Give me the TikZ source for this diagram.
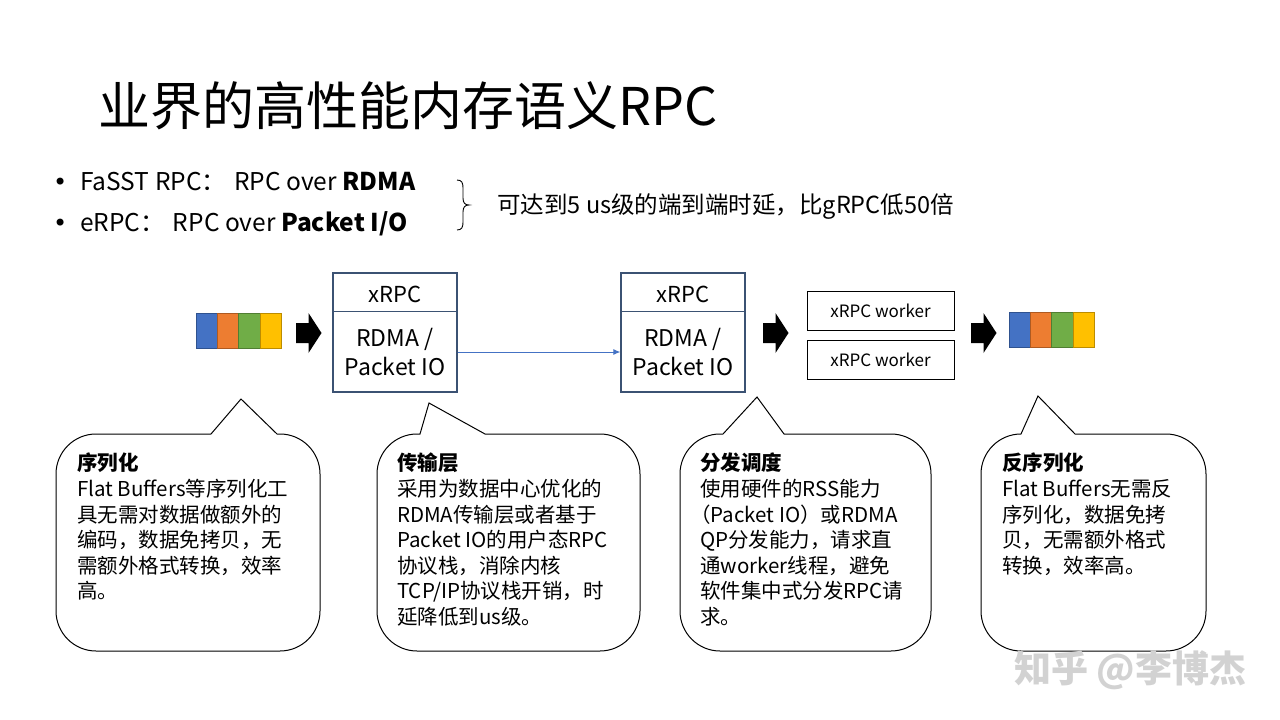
\documentclass[tikz,border=0pt]{standalone}
\usepackage{fontspec}
\setmainfont{Noto Sans CJK SC}
\newfontfamily\dejavu{DejaVu Sans}
\usetikzlibrary{arrows.meta}
\definecolor{boxblue}{HTML}{3B5273}
\definecolor{connblue}{HTML}{4472C4}
\definecolor{cb}{HTML}{4472C4}\definecolor{cbd}{HTML}{2F528F}
\definecolor{co}{HTML}{ED7D31}\definecolor{cod}{HTML}{AE5A21}
\definecolor{cg}{HTML}{70AD47}\definecolor{cgd}{HTML}{507E32}
\definecolor{cy}{HTML}{FFC000}\definecolor{cyd}{HTML}{BC8C00}
\newcommand\bubblepath[8]{%
  \draw[bubblestyle] (#1,{#2+40}) .. controls (#1,{#2+18}) and ({#1+18},#2) .. ({#1+40},#2)
    -- (#5,#2) -- (#6,#7) -- (#8,#2) -- ({#3-40},#2)
    .. controls ({#3-18},#2) and (#3,{#2+18}) .. (#3,{#2+40})
    -- (#3,{#4-40}) .. controls (#3,{#4-18}) and ({#3-18},#4) .. ({#3-40},#4)
    -- ({#1+40},#4) .. controls ({#1+18},#4) and (#1,{#4-18}) .. (#1,{#4-40}) -- cycle;}
\newcommand\datablock[3]{%
  \filldraw[fill=cb,draw=cbd] (#1,#2) rectangle ({#1+21.25},#3);
  \filldraw[fill=co,draw=cod] ({#1+21.25},#2) rectangle ({#1+42.5},#3);
  \filldraw[fill=cg,draw=cgd] ({#1+42.5},#2) rectangle ({#1+63.75},#3);
  \filldraw[fill=cy,draw=cyd] ({#1+63.75},#2) rectangle ({#1+85},#3);}
\newcommand\blockarrow[1]{%
  \fill[black] (#1,323) -- ({#1+12.5},323) -- ({#1+12.5},313) -- ({#1+25.5},333)
    -- ({#1+12.5},353) -- ({#1+12.5},343) -- (#1,343) -- cycle;}
\begin{document}
\begin{tikzpicture}[x=1pt,y=-1pt,
  rpcbox/.style={draw=boxblue, line width=1.2pt, minimum width=124pt, minimum height=119pt, inner sep=0pt},
  wbox/.style={draw=black, line width=1pt, minimum width=147pt, minimum height=39pt, inner sep=0pt, font=\fontsize{17}{20}\selectfont},
  lbl/.style={inner sep=0pt, font=\fontsize{22}{29}\selectfont},
  lblb/.style={inner sep=0pt, align=center, font=\fontsize{23}{29}\selectfont},
  btxt/.style={anchor=north west, align=left, inner sep=0pt, font=\fontsize{20.5}{25.6}\selectfont},
  bubblestyle/.style={draw=black, line width=1pt, fill=white},
  conn/.style={draw=connblue, line width=1pt, -{Latex[length=7pt,width=6pt]}},
  txt/.style={inner sep=0pt, anchor=base west},
  bul/.style={inner sep=0pt, anchor=base west, font=\fontsize{24.5}{30}\selectfont}
]
\useasboundingbox (0,0) rectangle (1280,720);
\fill[white] (0,0) rectangle (1280,720);

% title
\node[txt, font=\fontsize{52}{60}\selectfont] (title) at (98,125) {业界的高性能内存语义RPC};

% bullets
\node[bul, font=\fontsize{24}{30}\dejavu] (bu1) at (53,190) {•};
\node[bul] (t1) at (80,190) {FaSST RPC：\hspace{8pt}RPC over \textbf{RDMA}};
\node[bul, font=\fontsize{24}{30}\dejavu] (bu2) at (53,231) {•};
\node[bul] (t2) at (80,231) {eRPC：\hspace{8pt}RPC over \textbf{Packet I/O}};
\draw[line width=0.9pt] (457,180) .. controls (462,180) and (463,183) .. (463,188) -- (463,198)
  .. controls (463,203) and (465,205) .. (469,205)
  .. controls (465,205) and (463,207) .. (463,212) -- (463,222)
  .. controls (463,227) and (462,230) .. (457,230);
\node[txt, font=\fontsize{23.5}{28}\selectfont] (note) at (497,213) {可达到5 us级的端到端时延，比gRPC低50倍};

% pipeline
\datablock{196}{313}{348}
\blockarrow{296}
\node[rpcbox] (b1) at (395,332.5) {};
\draw[boxblue, line width=1.6pt] ([yshift=-39pt]b1.north west) -- ([yshift=-39pt]b1.north east);
\node[lbl] (b1h) at (395,294) {xRPC};
\node[lblb] (b1b) at (395,352.5) {RDMA /\\Packet IO};

\node[rpcbox] (b2) at (683,332.5) {};
\draw[boxblue, line width=1.6pt] ([yshift=-39pt]b2.north west) -- ([yshift=-39pt]b2.north east);
\node[lbl] (b2h) at (683,294) {xRPC};
\node[lblb] (b2b) at (683,352.5) {RDMA /\\Packet IO};

\draw[conn] ([yshift=-19.5pt]b1.east) -- ([yshift=-19.5pt]b2.west);

\blockarrow{763}
\node[wbox] (w1) at (880.5,310.5) {xRPC worker};
\node[wbox] (w2) at (880.5,359.5) {xRPC worker};
\blockarrow{971}
\datablock{1009}{312}{347}

% callouts
\bubblepath{56}{434}{320}{651}{211}{241}{399}{277}
\bubblepath{377}{434}{640}{651}{420}{429}{403}{485}
\bubblepath{680}{434}{931}{651}{723}{757}{397}{784}
\bubblepath{981}{434}{1206}{651}{1021}{1038}{396}{1075}

\node[btxt] (c1) at (77,453) {\textbf{序列化}\\Flat Buffers等序列化工\\具无需对数据做额外的\\编码，数据免拷贝，无\\需额外格式转换，效率\\高。};
\node[btxt] (c2) at (397,453) {\textbf{传输层}\\采用为数据中心优化的\\RDMA传输层或者基于\\Packet IO的用户态RPC\\协议栈，消除内核\\TCP/IP协议栈开销，时\\延降低到us级。};
\node[btxt] (c3) at (700,453) {\textbf{分发调度}\\使用硬件的RSS能力\\\hspace*{-10pt}（Packet IO）或RDMA\\QP分发能力，请求直\\通worker线程，避免\\软件集中式分发RPC请\\求。};
\node[btxt] (c4) at (1002,453) {\textbf{反序列化}\\Flat Buffers无需反\\序列化，数据免拷\\贝，无需额外格式\\转换，效率高。};

% watermark
\node[inner sep=0pt, font=\fontsize{37}{42}\selectfont\bfseries, text=gray!35] (wm) at (1130,670) {知乎 @李博杰};
\end{tikzpicture}
\end{document}
